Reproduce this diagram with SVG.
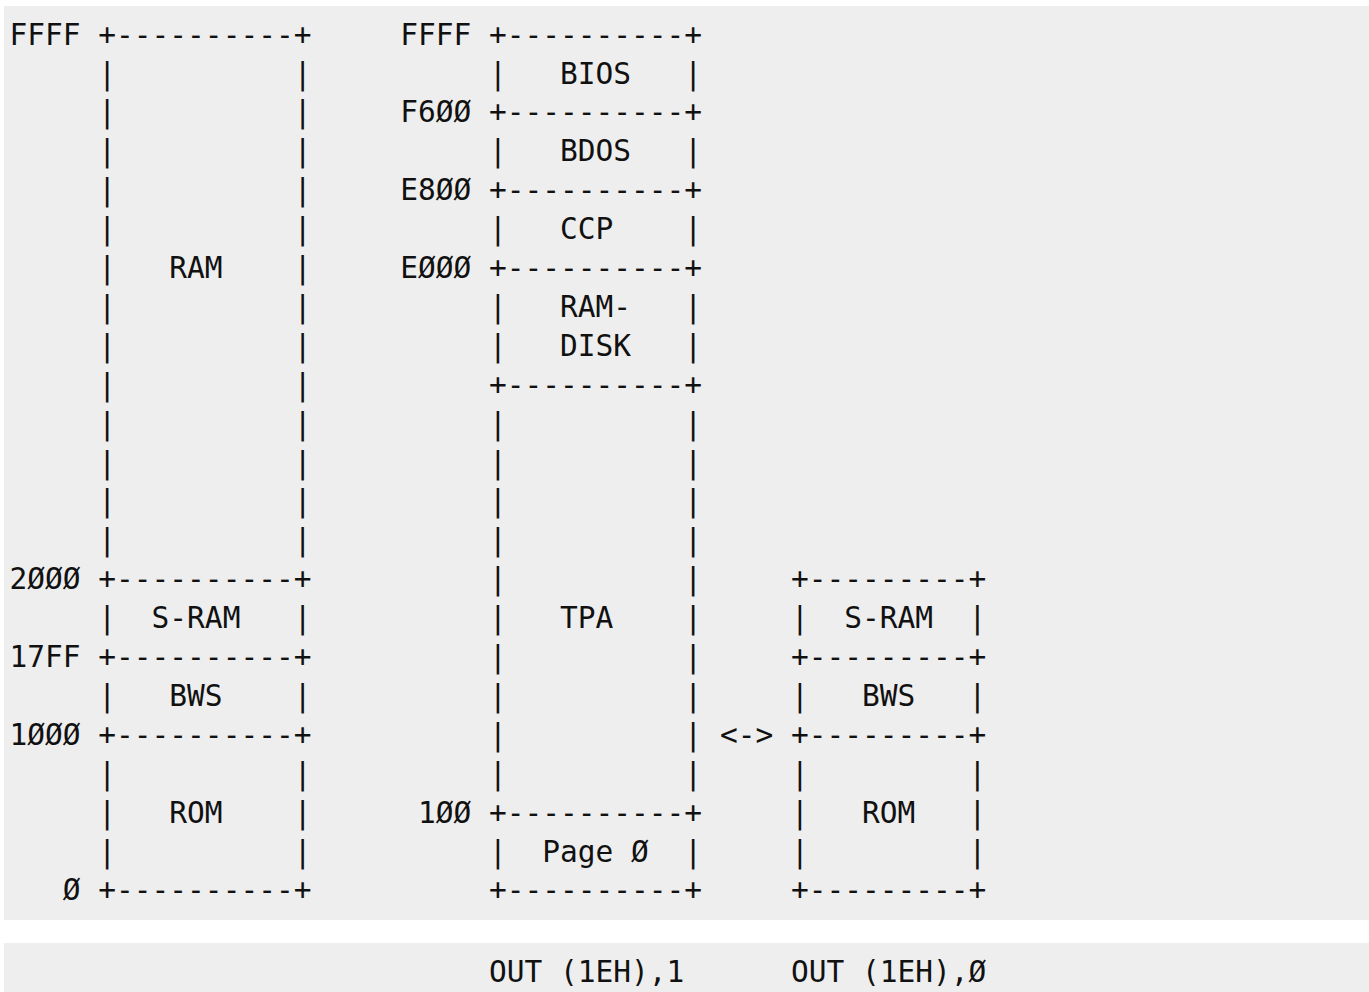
<svg xmlns="http://www.w3.org/2000/svg" width="1369" height="992" viewBox="0 0 1369 992">
<style>
.bg{fill:#eeeeee}
text{font-family:"DejaVu Sans Mono","Liberation Mono",monospace;font-size:29.5px;fill:#111111;white-space:pre}
</style>
<rect class="bg" x="4" y="6" width="1365" height="914"/>
<rect class="bg" x="4" y="943" width="1365" height="49"/>
<g id="hw-map" xml:space="preserve">
<text x="9.5" y="44.6">FFFF +----------+</text>
<text x="9.5" y="83.5">     |          |</text>
<text x="9.5" y="122.4">     |          |</text>
<text x="9.5" y="161.3">     |          |</text>
<text x="9.5" y="200.2">     |          |</text>
<text x="9.5" y="239.1">     |          |</text>
<text x="9.5" y="278.0">     |   RAM    |</text>
<text x="9.5" y="316.9">     |          |</text>
<text x="9.5" y="355.8">     |          |</text>
<text x="9.5" y="394.7">     |          |</text>
<text x="9.5" y="433.6">     |          |</text>
<text x="9.5" y="472.5">     |          |</text>
<text x="9.5" y="511.4">     |          |</text>
<text x="9.5" y="550.3">     |          |</text>
<text x="9.5" y="589.2">2ØØØ +----------+</text>
<text x="9.5" y="628.1">     |  S-RAM   |</text>
<text x="9.5" y="667.0">17FF +----------+</text>
<text x="9.5" y="705.9">     |   BWS    |</text>
<text x="9.5" y="744.8">1ØØØ +----------+</text>
<text x="9.5" y="783.7">     |          |</text>
<text x="9.5" y="822.6">     |   ROM    |</text>
<text x="9.5" y="861.5">     |          |</text>
<text x="9.5" y="900.4">   Ø +----------+</text>
</g>
<g id="cpm-map" xml:space="preserve">
<text x="400.2" y="44.6">FFFF +----------+</text>
<text x="400.2" y="83.5">     |   BIOS   |</text>
<text x="400.2" y="122.4">F6ØØ +----------+</text>
<text x="400.2" y="161.3">     |   BDOS   |</text>
<text x="400.2" y="200.2">E8ØØ +----------+</text>
<text x="400.2" y="239.1">     |   CCP    |</text>
<text x="400.2" y="278.0">EØØØ +----------+</text>
<text x="400.2" y="316.9">     |   RAM-   |</text>
<text x="400.2" y="355.8">     |   DISK   |</text>
<text x="400.2" y="394.7">     +----------+</text>
<text x="400.2" y="433.6">     |          |</text>
<text x="400.2" y="472.5">     |          |</text>
<text x="400.2" y="511.4">     |          |</text>
<text x="400.2" y="550.3">     |          |</text>
<text x="400.2" y="589.2">     |          |</text>
<text x="400.2" y="628.1">     |   TPA    |</text>
<text x="400.2" y="667.0">     |          |</text>
<text x="400.2" y="705.9">     |          |</text>
<text x="400.2" y="744.8">     |          |</text>
<text x="400.2" y="783.7">     |          |</text>
<text x="400.2" y="822.6"> 1ØØ +----------+</text>
<text x="400.2" y="861.5">     |  Page Ø  |</text>
<text x="400.2" y="900.4">     +----------+</text>
</g>
<g id="bank-map" xml:space="preserve">
<text x="791.0" y="589.2">+---------+</text>
<text x="791.0" y="628.1">|  S-RAM  |</text>
<text x="791.0" y="667.0">+---------+</text>
<text x="791.0" y="705.9">|   BWS   |</text>
<text x="791.0" y="744.8">+---------+</text>
<text x="791.0" y="783.7">|         |</text>
<text x="791.0" y="822.6">|   ROM   |</text>
<text x="791.0" y="861.5">|         |</text>
<text x="791.0" y="900.4">+---------+</text>
</g>
<g id="connectors">
<text x="719.9" y="744.8">&lt;-&gt;</text>
</g>
<g id="captions">
<text x="489.0" y="982">OUT (1EH),1</text>
<text x="791.0" y="982">OUT (1EH),Ø</text>
</g>
</svg>
